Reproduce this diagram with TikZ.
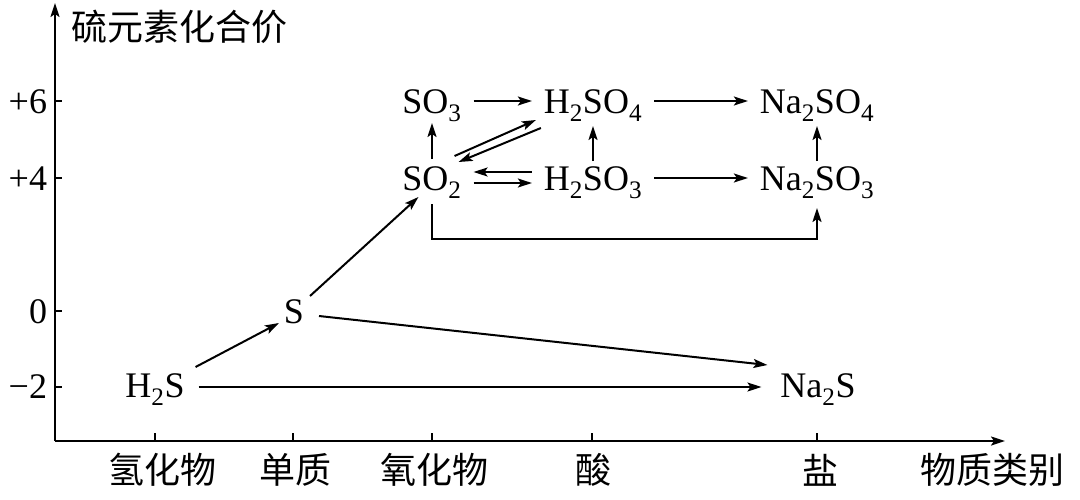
\documentclass[tikz,border=0pt]{standalone}
\usepackage{fontspec}
\setmainfont{Liberation Serif}
\newfontfamily\cjk{Noto Sans CJK SC}
\usetikzlibrary{arrows.meta}
\begin{document}
\begin{tikzpicture}[x=1pt,y=-1pt,
  line width=2pt,
  arr/.style={-{Stealth[length=14pt,width=9pt,inset=3pt]}},
  chem/.style={anchor=base,font=\fontsize{36}{40}\selectfont,inner xsep=11pt,inner ysep=5pt,text height=25pt,text depth=1pt},
  ylab/.style={anchor=base east,font=\fontsize{36}{40}\selectfont,inner sep=0pt},
  xlab/.style={font=\cjk\fontsize{36}{40}\selectfont,inner sep=0pt}]
\useasboundingbox (0,0) rectangle (1080,499);
% axes
\coordinate (O) at (55,441);
\coordinate (Ytop) at (55,3);
\coordinate (Xend) at (1005,441);
\draw[arr] (O) -- (Ytop);
\draw[arr] (O) -- (Xend);
% ticks
\foreach \yy in {101,178,311,387} \draw (55,\yy) -- (62,\yy);
\foreach \xx in {155,293,432,592,817} \draw (\xx,441) -- (\xx,433);
\node[ylab] (l6) at (48,113) {+6};
\node[ylab] (l4) at (48,190) {+4};
\node[ylab] (l0) at (48,323) {0};
\node[ylab] (lm2) at (48,398) {−2};
\node[xlab,anchor=west] (ylabel) at (70,27) {硫元素化合价};
\node[xlab] (c1) at (162,470) {氢化物};
\node[xlab] (c2) at (295,470) {单质};
\node[xlab] (c3) at (434,470) {氧化物};
\node[xlab] (c4) at (593,470) {酸};
\node[xlab] (c5) at (820,470) {盐};
\node[xlab] (c6) at (992,470) {物质类别};
% species
\node[chem] (SO3) at (432,113) {SO\textsubscript{3}};
\node[chem] (H2SO4) at (593,113) {H\textsubscript{2}SO\textsubscript{4}};
\node[chem] (Na2SO4) at (817,113) {Na\textsubscript{2}SO\textsubscript{4}};
\node[chem] (SO2) at (432,190) {SO\textsubscript{2}};
\node[chem] (H2SO3) at (593,190) {H\textsubscript{2}SO\textsubscript{3}};
\node[chem] (Na2SO3) at (817,190) {Na\textsubscript{2}SO\textsubscript{3}};
\node[chem] (S) at (294,323) {S};
\node[chem] (H2S) at (155,397) {H\textsubscript{2}S};
\node[chem] (Na2S) at (818,397) {Na\textsubscript{2}S};
% connectors
\draw[arr] (SO3) -- (H2SO4);
\draw[arr] (H2SO4) -- (Na2SO4);
\draw[arr] (H2SO3) -- (Na2SO3);
\draw[arr,shorten >=3pt] (SO2.north) -- (SO3.south);
\draw[arr,shorten >=3pt] ([shift={(0,2)}]H2SO3.north) -- ([shift={(0,3)}]H2SO4.south);
\draw[arr,shorten >=3pt] ([shift={(0,2)}]Na2SO3.north) -- ([shift={(0,3)}]Na2SO4.south);
\draw[arr] ([shift={(0,-6)}]H2SO3.west) -- ([shift={(0,-6)}]SO2.east);
\draw[arr] ([shift={(0,5)}]SO2.east) -- ([shift={(0,5)}]H2SO3.west);
\draw[arr] ([shift={(-19,-3)}]SO2.north east) -- ([shift={(4,0)}]H2SO4.south west);
\draw[arr] ([shift={(9,8)}]H2SO4.south west) -- ([shift={(-15,3)}]SO2.north east);
\draw[arr] ([shift={(0,7)}]SO2.south) -- ++(0,35) -| ([shift={(0,11)}]Na2SO3.south);
\draw[arr] ([shift={(-6,4)}]S.north east) -- ([shift={(28,0)}]SO2.south west);
\draw[arr] ([shift={(-1,1)}]H2S.north east) -- ([shift={(7,-7)}]S.south west);
\draw[arr] ([shift={(3,5)}]S.east) -- ([shift={(-1,-1)}]Na2S.north west);
\draw[arr] ([shift={(2,2)}]H2S.east) -- ([shift={(-7,2)}]Na2S.west);
\end{tikzpicture}
\end{document}
